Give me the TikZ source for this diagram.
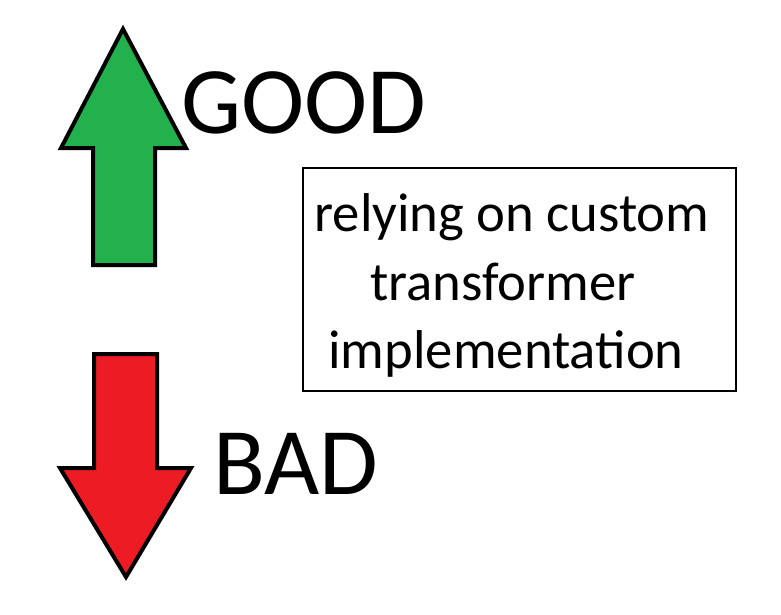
\documentclass[tikz,border=0pt]{standalone}
\usepackage{fontspec}
\setmainfont{Carlito}
\definecolor{paintgreen}{RGB}{34,177,76}
\definecolor{paintred}{RGB}{237,28,36}
\begin{document}
\begin{tikzpicture}[x=0.75pt,y=-0.75pt,
  arrowshape/.style={draw=black,line width=3pt,line join=miter,miter limit=10},
  bigword/.style={font=\fontsize{71.5}{84}\selectfont,inner sep=0pt,anchor=base west},
  boxtext/.style={font=\fontsize{41}{51}\selectfont,inner sep=0pt,anchor=base}]
\useasboundingbox (0,0) rectangle (781,614);
% green arrow
\draw[arrowshape,fill=paintgreen] (123,29) -- (186,148) -- (155,148) -- (155,265) -- (93,265) -- (93,148) -- (61,148) -- cycle;
% red arrow
\draw[arrowshape,fill=paintred] (94,354) -- (157,354) -- (157,468) -- (191,468) -- (126,577) -- (60,468) -- (94,468) -- cycle;
\node[bigword] (good) at (181,133) {GOOD};
\node[bigword] (bad) at (213,494) {BAD};
\node[draw=black,line width=1.5pt,minimum width=433*0.75pt,minimum height=223*0.75pt,inner sep=0pt] (box) at (519.5,279.5) {};
\node[boxtext] (l1) at (512,231) {relying on custom};
\node[boxtext] (l2) at (503,300) {transformer};
\node[boxtext] (l3) at (506,368) {implementation};
\end{tikzpicture}
\end{document}
